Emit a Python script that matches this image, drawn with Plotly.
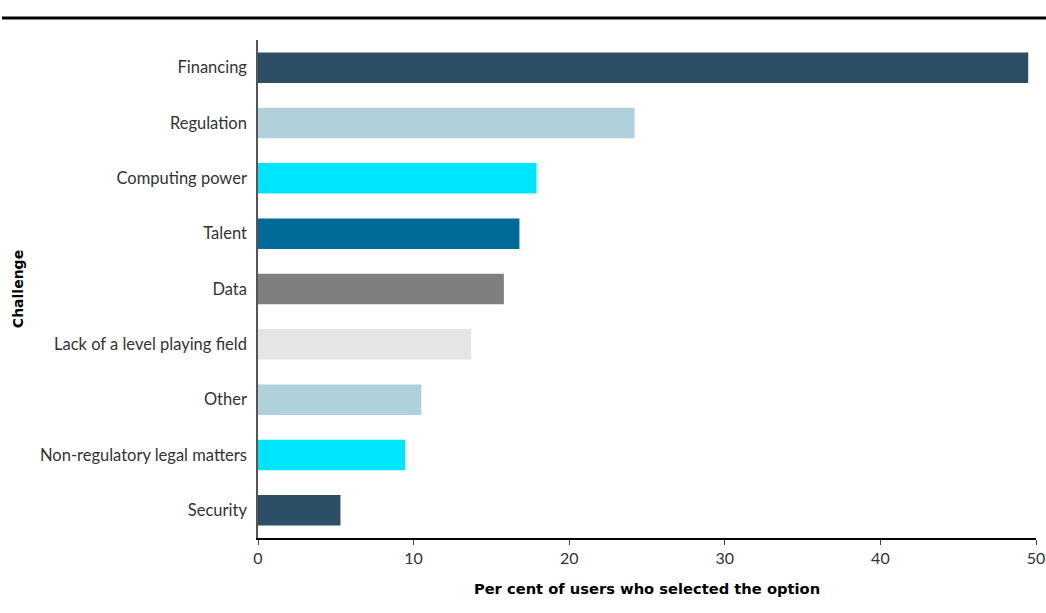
import plotly.graph_objects as go

categories = ["Financing", "Regulation", "Computing power", "Talent", "Data",
              "Lack of a level playing field", "Other", "Non-regulatory legal matters", "Security"]
values = [49.5, 24.2, 17.9, 16.8, 15.8, 13.7, 10.5, 9.45, 5.3]
colors = ["#2c4f66", "#b0d0dc", "#00e5ff", "#006a99", "#7f7f7f",
          "#e5e5e5", "#b0d0dc", "#00e5ff", "#2c4f66"]

W, H = 1046, 613
L, R, T, B = 258, 10, 40, 75
pw, ph = W - L - R, H - T - B

fig = go.Figure(go.Bar(
    x=values, y=categories, orientation="h",
    marker=dict(color=colors, line=dict(width=0)),
    width=0.55, hoverinfo="x+y",
))

fig.update_layout(
    width=W, height=H,
    margin=dict(l=L, r=R, t=T, b=B),
    paper_bgcolor="white", plot_bgcolor="white",
    font=dict(family="Lato, DejaVu Sans, sans-serif", size=16, color="#222"),
    showlegend=False,
    xaxis=dict(
        range=[0, 50], tickvals=[0, 10, 20, 30, 40, 50],
        automargin=False,
        showgrid=False, zeroline=False,
        showline=True, linecolor="black", linewidth=1.5,
        ticks="outside", ticklen=5, tickcolor="#444",
        tickfont=dict(size=16, color="#333"),
        title=dict(text="Per cent of users who selected the option",
                   font=dict(family="DejaVu Sans, sans-serif", size=14.7, color="black", weight="bold"),
                   standoff=18),
    ),
    yaxis=dict(
        categoryorder="array", categoryarray=categories[::-1],
        automargin=False,
        showgrid=False, zeroline=False,
        showline=True, linecolor="#555", linewidth=1.5,
        ticks="", ticklabelstandoff=6,
        tickfont=dict(size=16.5, color="#333"),
        title=dict(text="Challenge",
                   font=dict(family="DejaVu Sans, sans-serif", size=14, color="black", weight="bold"),
                   standoff=13),
    ),
    shapes=[dict(type="line", xref="paper", yref="paper",
                 x0=(2 - L) / pw, x1=(W - L) / pw,
                 y0=(H - B - 18) / ph, y1=(H - B - 18) / ph,
                 line=dict(color="black", width=3))],
)

fig.write_html("out.html")
